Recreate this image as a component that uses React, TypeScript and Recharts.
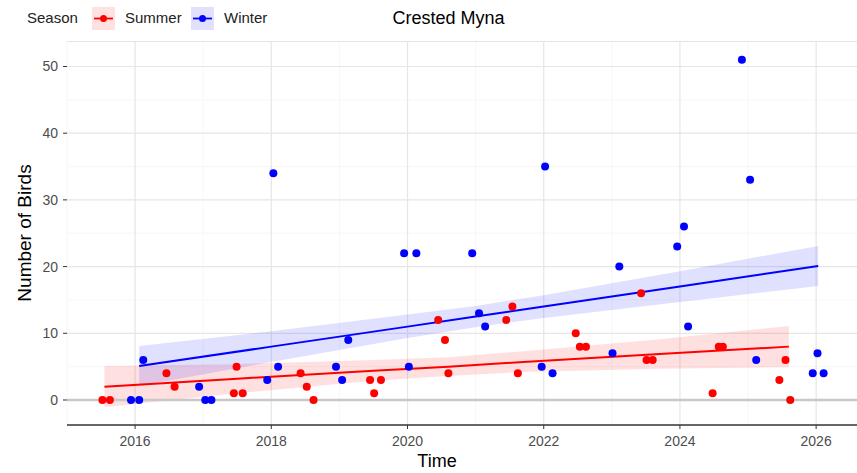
import {
  ComposedChart, Scatter, Line, Area, XAxis, YAxis, CartesianGrid,
} from "recharts";

// survey observations: decimal year + count of birds
const summerYears = [
  2015.52, 2015.63, 2016.46, 2016.58, 2017.49, 2017.45, 2017.58,
  2018.43, 2018.52, 2018.62, 2019.45, 2019.51, 2019.61,
  2020.45, 2020.55, 2020.6, 2021.45, 2021.54, 2021.62,
  2022.47, 2022.53, 2022.62, 2023.43, 2023.51, 2023.6,
  2024.48, 2024.57, 2024.63, 2025.46, 2025.55, 2025.62,
];
const summerCounts = [
  0, 0, 4, 2, 5, 1, 1,
  4, 2, 0, 3, 1, 3,
  12, 9, 4, 12, 14, 4,
  10, 8, 8, 16, 6, 6,
  1, 8, 8, 3, 6, 0,
];

const winterYears = [
  2015.94, 2016.06, 2016.12, 2016.94, 2017.03, 2017.12,
  2017.94, 2018.03, 2018.1, 2018.95, 2019.04, 2019.13,
  2019.95, 2020.02, 2020.13, 2020.95, 2021.05, 2021.14,
  2021.97, 2022.02, 2022.13, 2023.01, 2023.11,
  2023.96, 2024.06, 2024.12, 2024.91, 2025.03, 2025.12,
  2025.95, 2026.02, 2026.11,
];
const winterCounts = [
  0, 0, 6, 2, 0, 0,
  3, 34, 5, 5, 3, 9,
  22, 5, 22, 22, 13, 11,
  5, 35, 4, 7, 20,
  23, 26, 11, 51, 33, 6,
  4, 7, 4,
];

// linear fit + confidence band
const summerFitYears = [2015.55, 2017.5, 2019.5, 2020.6, 2021.7, 2023.7, 2025.6];
const summerFit = [2.0, 3.2, 4.4, 5.0, 5.7, 6.9, 8.0];
const summerLow = [-1.1, 1.0, 2.9, 3.6, 4.2, 4.7, 4.9];
const summerHigh = [5.1, 5.4, 6.0, 6.4, 7.3, 9.1, 11.1];

const winterFitYears = [2016.06, 2018.0, 2020.0, 2021.0, 2022.0, 2024.0, 2026.03];
const winterFit = [5.1, 8.0, 11.0, 12.5, 14.0, 17.0, 20.1];
const winterLow = [2.1, 5.7, 9.3, 10.9, 12.3, 14.7, 17.1];
const winterHigh = [8.1, 10.3, 12.8, 14.1, 15.7, 19.3, 23.1];

const xTicks = [2016, 2018, 2020, 2022, 2024, 2026];
const xMinor = [2015, 2017, 2019, 2021, 2023, 2025];
const yTicks = [0, 10, 20, 30, 40, 50];
const yMinor = [5, 15, 25, 35, 45];

const RED = "#ff0000";
const BLUE = "#0000ff";
const FONT = '"Liberation Sans", Arial, sans-serif';

const toPoints = (xs: number[], ys: number[]) => xs.map((x, i) => ({ x, y: ys[i] }));
const toBand = (xs: number[], lo: number[], hi: number[]) =>
  xs.map((x, i) => ({ x, band: [lo[i], hi[i]] }));

const summerPts = toPoints(summerYears, summerCounts);
const winterPts = toPoints(winterYears, winterCounts);
const summerLine = toPoints(summerFitYears, summerFit);
const winterLine = toPoints(winterFitYears, winterFit);
const summerBand = toBand(summerFitYears, summerLow, summerHigh);
const winterBand = toBand(winterFitYears, winterLow, winterHigh);
const zeroLine = [{ x: 2015, y: 0 }, { x: 2026.6, y: 0 }];

const dot = (color: string) => (p: any) => (
  <circle cx={p.cx} cy={p.cy} r={4} fill={color} />
);

function LegendKey({ color, fill, left }: { color: string; fill: string; left: number }) {
  return (
    <svg width={23} height={23} style={{ position: "absolute", left, top: 7 }}>
      <rect x={0} y={0} width={23} height={23} fill={fill} />
      <line x1={2} y1={11.5} x2={21} y2={11.5} stroke={color} strokeWidth={1.8} />
      <circle cx={11.5} cy={11.5} r={3.5} fill={color} />
    </svg>
  );
}

const legendText = { position: "absolute" as const, top: 9, fontSize: 15, lineHeight: "18px", color: "#222" };

export default function App() {
  const tick = { fill: "#4d4d4d", fontSize: 14, fontFamily: FONT };
  return (
    <div style={{ position: "absolute", left: 0, top: 0, width: 857, height: 473, background: "#fff", fontFamily: FONT }}>
      <ComposedChart width={857} height={473} margin={{ top: 42, right: 0, bottom: 0, left: 0 }}>
        <CartesianGrid stroke="#f3f3f3" strokeWidth={0.7} horizontalValues={yMinor} verticalValues={xMinor} />
        <CartesianGrid stroke="#e6e6e6" strokeWidth={1.2} horizontalValues={yTicks} verticalValues={xTicks} />
        <XAxis
          dataKey="x" type="number" domain={[2015, 2026.6]} ticks={xTicks} allowDataOverflow
          height={48} tick={tick} tickSize={4} tickMargin={7}
          axisLine={{ stroke: "#333", strokeWidth: 1.3 }} tickLine={{ stroke: "#333" }}
        />
        <YAxis
          type="number" domain={[-3.75, 53.67]} ticks={yTicks} allowDataOverflow
          width={67} tick={tick} tickSize={4} tickMargin={5}
          axisLine={false} tickLine={{ stroke: "#333" }}
        />
        <Line data={zeroLine} dataKey="y" stroke="#c8c8c8" strokeWidth={2.5} dot={false} isAnimationActive={false} />
        <Area data={summerBand} dataKey="band" type="linear" fill={RED} fillOpacity={0.12} stroke="none" isAnimationActive={false} />
        <Area data={winterBand} dataKey="band" type="linear" fill={BLUE} fillOpacity={0.12} stroke="none" isAnimationActive={false} />
        <Line data={summerLine} dataKey="y" type="linear" stroke={RED} strokeWidth={2} dot={false} isAnimationActive={false} />
        <Line data={winterLine} dataKey="y" type="linear" stroke={BLUE} strokeWidth={2} dot={false} isAnimationActive={false} />
        <Scatter data={summerPts} dataKey="y" shape={dot(RED)} isAnimationActive={false} />
        <Scatter data={winterPts} dataKey="y" shape={dot(BLUE)} isAnimationActive={false} />
      </ComposedChart>

      {/* panel top edge */}
      <div style={{ position: "absolute", left: 67, top: 41, width: 790, height: 1, background: "#e3e3e3" }} />

      <div style={{ position: "absolute", left: 0, top: 7, width: 897, textAlign: "center", fontSize: 18, lineHeight: "22px", color: "#000" }}>
        Crested Myna
      </div>

      <span style={{ ...legendText, left: 27 }}>Season</span>
      <LegendKey color={RED} fill="#ffe1e1" left={92} />
      <span style={{ ...legendText, left: 125 }}>Summer</span>
      <LegendKey color={BLUE} fill="#e1e1ff" left={191} />
      <span style={{ ...legendText, left: 224 }}>Winter</span>

      <div style={{ position: "absolute", left: 337, top: 451, width: 200, textAlign: "center", fontSize: 18, color: "#000" }}>
        Time
      </div>
      <div style={{
        position: "absolute", left: 25, top: 233, width: 200, textAlign: "center", fontSize: 19, lineHeight: "22px",
        color: "#000", transform: "translate(-50%, -50%) rotate(-90deg)",
      }}>
        Number of Birds
      </div>
    </div>
  );
}
